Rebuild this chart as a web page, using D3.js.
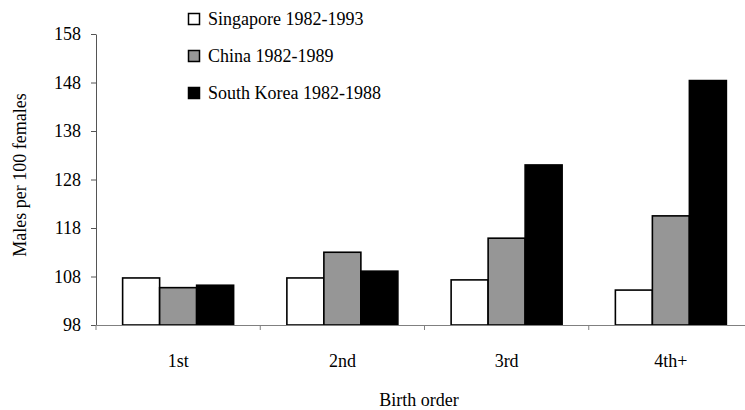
<!DOCTYPE html>
<html>
<head>
<meta charset="utf-8">
<script src="https://cdn.jsdelivr.net/npm/d3@7"></script>
<style>
  body { margin: 0; background: #fff; }
  svg text { font-family: "Liberation Serif", "DejaVu Serif", serif; fill: #000; }
</style>
</head>
<body>
<div id="chart"></div>
<script>
// data
const categories = ['1st', '2nd', '3rd', '4th+'];
const seriesNames = ['Singapore 1982-1993', 'China 1982-1989', 'South Korea 1982-1988'];
const singapore = [107.7, 107.7, 107.3, 105.2];
const china = [105.7, 113.0, 115.9, 120.5];
const southKorea = [106.2, 109.1, 131.0, 148.4];
const yTicks = [98, 108, 118, 128, 138, 148, 158];
const fills = ['#ffffff', '#969696', '#000000'];

const W = 745, H = 410;
const m = { top: 34, right: -8, bottom: 85, left: 96 };
const iw = W - m.left - m.right, ih = H - m.top - m.bottom;

const svg = d3.select('#chart').append('svg')
  .attr('width', W).attr('height', H);
const g = svg.append('g').attr('transform', `translate(${m.left},${m.top})`);

const x = d3.scaleBand().domain(categories).range([0, iw]).paddingInner(0).paddingOuter(0);
const x1 = d3.scaleBand().domain(d3.range(3)).range([x.bandwidth() / 2 - 55.5, x.bandwidth() / 2 + 55.5]);
const y = d3.scaleLinear().domain([98, 158]).range([ih, 0]);

const series = [singapore, china, southKorea];

// bars
series.forEach((vals, s) => {
  g.selectAll('.bar' + s)
    .data(vals)
    .enter()
    .append('rect')
    .attr('x', (d, i) => x(categories[i]) + x1(s))
    .attr('y', d => y(d))
    .attr('width', x1.bandwidth())
    .attr('height', d => y(98) - y(d))
    .attr('fill', fills[s])
    .attr('stroke', '#000')
    .attr('stroke-width', 1.6);
});

// y axis
const yAxis = g.append('g')
  .call(d3.axisLeft(y).tickValues(yTicks).tickSize(5).tickPadding(10).tickSizeOuter(0));
yAxis.select('.domain').attr('stroke', '#555');
yAxis.selectAll('.tick line').attr('stroke', '#555');
yAxis.selectAll('text').attr('font-size', 18).style('font-family', '"Liberation Serif", serif');

// x axis
const xAxis = g.append('g').attr('transform', `translate(0,${ih})`)
  .call(d3.axisBottom(x).tickSize(0).tickPadding(29).tickSizeOuter(0));
xAxis.select('.domain').attr('stroke', '#808080');
xAxis.selectAll('text').attr('font-size', 18).style('font-family', '"Liberation Serif", serif');

// category separators
g.selectAll('.sep')
  .data(categories)
  .enter()
  .append('line')
  .attr('x1', d => x(d)).attr('x2', d => x(d))
  .attr('y1', ih).attr('y2', ih + 5)
  .attr('stroke', '#808080');

// axis titles
svg.append('text')
  .attr('x', 419).attr('y', 406)
  .attr('text-anchor', 'middle')
  .attr('font-size', 18)
  .text('Birth order');

svg.append('text')
  .attr('transform', `translate(26,175) rotate(-90)`)
  .attr('text-anchor', 'middle')
  .attr('font-size', 18)
  .text('Males per 100 females');

// legend
const legend = svg.append('g').attr('transform', 'translate(188,13)');
seriesNames.forEach((name, i) => {
  const row = legend.append('g').attr('transform', `translate(0,${i * 37})`);
  row.append('rect')
    .attr('x', 0.5).attr('y', 0.5)
    .attr('width', 11).attr('height', 11)
    .attr('fill', fills[i]).attr('stroke', '#000').attr('stroke-width', 1.5);
  row.append('text')
    .attr('x', 20).attr('y', 12)
    .attr('font-size', 18)
    .text(name);
});
</script>
</body>
</html>
